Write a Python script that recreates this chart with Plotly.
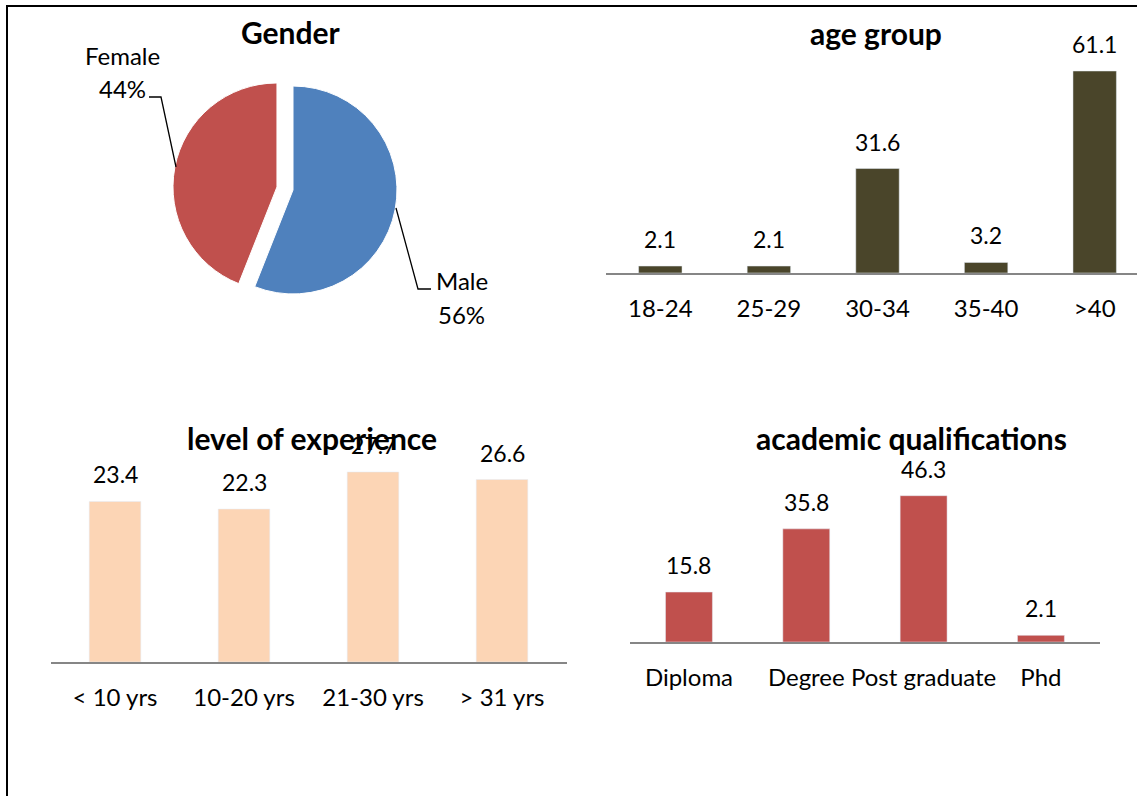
import plotly.graph_objects as go

W, H = 1137, 796
FONT = "Lato"

# ---------------- data ----------------
gender_labels = ["Male", "Female"]
gender_values = [56, 44]

age_cats = ["18-24", "25-29", "30-34", "35-40", ">40"]
age_vals = [2.1, 2.1, 31.6, 3.2, 61.1]

exp_cats = ["< 10 yrs", "10-20 yrs", "21-30 yrs", "> 31 yrs"]
exp_vals = [23.4, 22.3, 27.7, 26.6]

acad_cats = ["Diploma", "Degree", "Post graduate", "Phd"]
acad_vals = [15.8, 35.8, 46.3, 2.1]

# ---------------- helpers ----------------
def px(x):
    return x / W

def py(y):
    return 1 - y / H

TICK_SIZE = 24
LABEL_SIZE = 23
TITLE_SIZE = 30

fig = go.Figure()

# ---------------- pie ----------------
fig.add_trace(go.Pie(
    labels=gender_labels, values=gender_values, sort=False, direction="clockwise",
    rotation=0, pull=[0, 0.157], textinfo="none", hoverinfo="label+percent",
    marker=dict(colors=["#4F81BD", "#C0504D"], line=dict(color="white", width=1)),
    domain=dict(x=[px(293 - 120.3), px(293 + 120.3)], y=[py(190 + 120.3), py(190 - 120.3)]),
    showlegend=False,
))

# ---------------- bars ----------------
fig.add_trace(go.Bar(x=age_cats, y=age_vals, marker_color="#4A452A", xaxis="x", yaxis="y",
                     showlegend=False))
fig.add_trace(go.Bar(x=exp_cats, y=exp_vals, marker_color="#FCD5B5", xaxis="x2", yaxis="y2",
                     showlegend=False))
fig.add_trace(go.Bar(x=acad_cats, y=acad_vals, marker_color="#C0504D", xaxis="x3", yaxis="y3",
                     showlegend=False))

xcommon = dict(showline=True, linecolor="#868686", linewidth=2, showgrid=False, zeroline=False,
               ticks="", tickfont=dict(family=FONT, size=TICK_SIZE, color="black"),
               ticklabelstandoff=13, fixedrange=True)
ycommon = dict(visible=False, showgrid=False, zeroline=False, fixedrange=True)

annotations = []
shapes = []

def data_labels(cats, vals, xref, yref):
    for c, v in zip(cats, vals):
        annotations.append(dict(x=c, y=v, xref=xref, yref=yref, text=f"{v}", showarrow=False,
                                yanchor="middle", yshift=27,
                                font=dict(family=FONT, size=LABEL_SIZE, color="black")))

# age group
age_step = 108.6
fig.update_layout(
    xaxis=dict(xcommon, domain=[px(606), 1], range=[-0.5, (W - 606) / age_step - 0.5], anchor="y"),
    yaxis=dict(ycommon, domain=[py(273), py(30)], range=[0, (273 - 30) / 3.306], anchor="x"),
)
data_labels(age_cats, age_vals, "x", "y")

# experience
fig.update_layout(
    xaxis2=dict(xcommon, domain=[px(50.5), px(566.5)], range=[-0.5, 3.5], anchor="y2"),
    yaxis2=dict(ycommon, domain=[py(662), py(420)], range=[0, (662 - 420) / 6.86], anchor="x2"),
)
data_labels(exp_cats, exp_vals, "x2", "y2")

# academic
fig.update_layout(
    xaxis3=dict(xcommon, domain=[px(630.3), px(1099.6)], range=[-0.5, 3.5], anchor="y3"),
    yaxis3=dict(ycommon, domain=[py(642), py(420)], range=[0, (642 - 420) / 3.16], anchor="x3"),
)
data_labels(acad_cats, acad_vals, "x3", "y3")

# ---------------- titles ----------------
def title(text, x, y):
    annotations.append(dict(x=px(x), y=py(y), xref="paper", yref="paper", text=f"<b>{text}</b>",
                            showarrow=False, xanchor="center", yanchor="middle",
                            font=dict(family=FONT, size=TITLE_SIZE, color="black")))

title("Gender", 291, 32)
title("age group", 876, 33)
title("level of experience", 312, 438)
title("academic qualifications", 911, 438)

# ---------------- pie labels ----------------
total = sum(gender_values)
pct = {l: f"{round(v / total * 100)}%" for l, v in zip(gender_labels, gender_values)}

def txt(text, x, y):
    annotations.append(dict(x=px(x), y=py(y), xref="paper", yref="paper", text=text,
                            showarrow=False, xanchor="center", yanchor="middle",
                            font=dict(family=FONT, size=TICK_SIZE, color="black")))

txt("Female", 122, 56)
txt(pct["Female"], 122, 88)
txt("Male", 462, 281)
txt(pct["Male"], 461, 314)

def path(points):
    d = "M " + " L ".join(f"{px(x)},{py(y)}" for x, y in points)
    shapes.append(dict(type="path", path=d, xref="paper", yref="paper",
                       line=dict(color="black", width=1.3)))

path([(149, 97), (161, 97), (176, 167)])
path([(396, 208), (418, 289), (431, 289)])

# ---------------- frame ----------------
shapes.append(dict(type="line", xref="paper", yref="paper", x0=px(6), y0=py(6), x1=1, y1=py(6),
                   line=dict(color="black", width=2)))
shapes.append(dict(type="line", xref="paper", yref="paper", x0=px(7), y0=py(6), x1=px(7), y1=0,
                   line=dict(color="black", width=2)))

fig.update_layout(
    width=W, height=H, margin=dict(l=0, r=0, t=0, b=0),
    paper_bgcolor="white", plot_bgcolor="white",
    bargap=0.6, annotations=annotations, shapes=shapes,
    font=dict(family=FONT, color="black"),
)

fig.write_html("out.html")
